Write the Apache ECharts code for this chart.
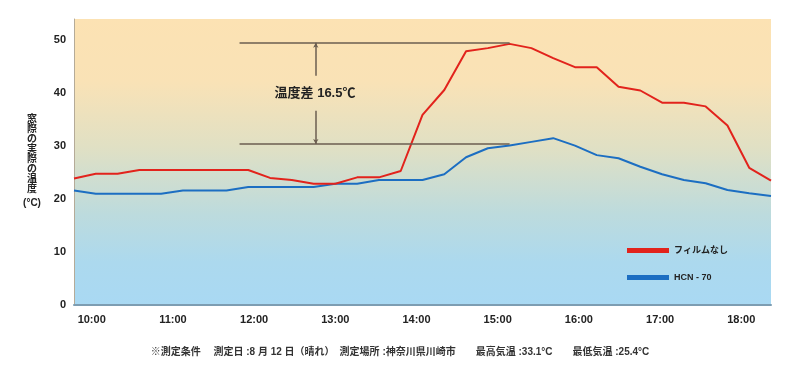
<!DOCTYPE html>
<html><head><meta charset="utf-8">
<script src="https://cdn.jsdelivr.net/npm/echarts@6/dist/echarts.min.js"></script>
<style>html,body{margin:0;padding:0;background:#fff}#c{width:800px;height:376px}</style>
</head><body><div id="c"></div>
<script>
// ---- data ----
const hourValues = [10, 11, 12, 13, 14, 15, 16, 17, 18];
const hourLabels = ['10:00', '11:00', '12:00', '13:00', '14:00', '15:00', '16:00', '17:00', '18:00'];
const seriesNames = ['フィルムなし', 'HCN - 70'];
const filmNone = [23.9, 24.8, 24.8, 25.5, 25.5, 25.5, 25.5, 25.5, 25.5, 24.0, 23.6, 22.9, 22.9, 24.1, 24.1, 25.3,
  35.9, 40.6, 47.9, 48.5, 49.3, 48.5, 46.6, 44.9, 44.9, 41.2, 40.5, 38.2, 38.2, 37.5, 33.9, 25.9, 23.5];
const hcn70 = [21.6, 21.0, 21.0, 21.0, 21.0, 21.6, 21.6, 21.6, 22.3, 22.3, 22.3, 22.3, 22.9, 22.9, 23.6, 23.6,
  23.6, 24.7, 27.9, 29.6, 30.1, 30.8, 31.5, 30.1, 28.3, 27.7, 26.1, 24.7, 23.6, 23.0, 21.7, 21.1, 20.6];
const yTicks = [0, 10, 20, 30, 40, 50];
// annotation (in reading-index / °C units)
const annotTop = 49.5, annotBottom = 30.4;
const annotStart = 7.6, annotEnd = 20, annotArrowX = 11.1;
const annotGapTop = 43.3, annotGapBottom = 36.7;
const annotText = '温度差 16.5℃';
const yTitle = '窓際の実際の温度';
const yUnit = '(°C)';
const note = '※測定条件　 測定日 :8 月 12 日（晴れ）　測定場所 :神奈川県川崎市　　最高気温 :33.1°C　　最低気温 :25.4°C';

const FONT = '"Liberation Sans", "Noto Sans CJK JP", sans-serif';
const CJK = '"Noto Sans CJK JP", sans-serif';
const chart = echarts.init(document.getElementById('c'), null, {renderer: 'canvas'});
const bg = new echarts.graphic.LinearGradient(0, 0, 0, 1, [
  {offset: 0, color: '#FCE2B3'},
  {offset: 0.22, color: '#F9E2B6'},
  {offset: 0.45, color: '#E0E0C4'},
  {offset: 0.68, color: '#BDDBDD'},
  {offset: 0.85, color: '#ACD9EE'},
  {offset: 1, color: '#A9D9F3'}
]);
const lineCol = '#6b5e50';
const titleGraphics = yTitle.split('').map((ch, i) => ({
  type: 'text', x: 32, y: 118 + i * 10,
  style: {text: ch, align: 'center', verticalAlign: 'middle', fontFamily: CJK, fontSize: 10, fontWeight: 'bold', fill: '#222'}
}));
chart.setOption({
  animation: false,
  grid: {left: 74, right: 29, top: 19, bottom: 71, show: true, backgroundColor: bg, borderWidth: 0},
  legend: {
    data: seriesNames, orient: 'vertical', left: 627, top: 246, padding: 0, itemWidth: 42, itemHeight: 5, itemGap: 18,
    icon: 'rect', textStyle: {fontFamily: FONT, fontSize: 9, fontWeight: 'bold', color: '#222'}
  },
  xAxis: [
    {type: 'value', min: 0, max: filmNone.length - 1, show: false},
    {type: 'value', min: 9.782, max: 18.366, position: 'bottom',
      axisLine: {show: true, lineStyle: {color: '#7d9db2', width: 2}},
      axisTick: {show: false}, splitLine: {show: false},
      axisLabel: {customValues: hourValues, margin: 9,
        formatter: v => hourLabels[hourValues.indexOf(Math.round(v))],
        fontFamily: FONT, fontSize: 11, fontWeight: 'bold', color: '#222'}}
  ],
  yAxis: {type: 'value', min: 0, max: 54, interval: 10,
    axisLine: {show: true, lineStyle: {color: '#b5ab98', width: 1}},
    axisTick: {show: false}, splitLine: {show: false},
    axisLabel: {customValues: yTicks, margin: 8, fontFamily: FONT, fontSize: 11, fontWeight: 'bold', color: '#222'}},
  series: [
    {name: seriesNames[0], type: 'line', xAxisIndex: 0, data: filmNone.map((v, i) => [i, v]),
      symbol: 'none', color: '#E2231C', lineStyle: {width: 2}, z: 4},
    {name: seriesNames[1], type: 'line', xAxisIndex: 0, data: hcn70.map((v, i) => [i, v]),
      symbol: 'none', color: '#1C6EC2', lineStyle: {width: 2}, z: 3},
    {name: 'annot', type: 'line', xAxisIndex: 0, data: [], z: 2,
      markLine: {silent: true, symbol: ['none', 'none'], symbolSize: 5, label: {show: false},
        lineStyle: {color: lineCol, width: 1.5, type: 'solid'},
        data: [
          [{coord: [annotStart, annotTop]}, {coord: [annotEnd, annotTop]}],
          [{coord: [annotStart, annotBottom]}, {coord: [annotEnd, annotBottom]}],
          [{coord: [annotArrowX, annotGapTop]}, {coord: [annotArrowX, annotTop], symbol: 'arrow', symbolSize: [4, 5]}],
          [{coord: [annotArrowX, annotGapBottom]}, {coord: [annotArrowX, annotBottom], symbol: 'arrow', symbolSize: [4, 5]}]
        ]}}
  ],
  graphic: titleGraphics.concat([
    {type: 'text', x: 315, y: 93, style: {text: annotText, align: 'center', verticalAlign: 'middle',
      font: 'bold 13px ' + FONT, fill: '#222'}, z: 10},
    {type: 'text', x: 32, y: 203, style: {text: yUnit, align: 'center', verticalAlign: 'middle',
      font: 'bold 10px ' + FONT, fill: '#222'}},
    {type: 'text', x: 400, y: 352, style: {text: note, align: 'center', verticalAlign: 'middle',
      font: 'bold 10px ' + FONT, fill: '#333'}}
  ])
});
</script></body></html>
